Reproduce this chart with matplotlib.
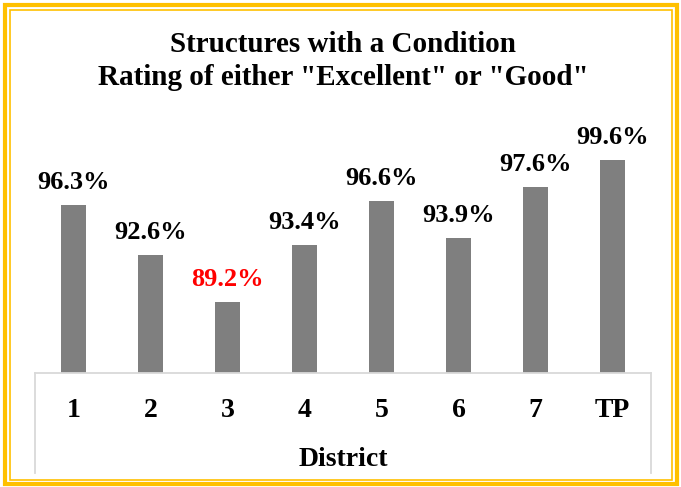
import matplotlib.pyplot as plt
from matplotlib.patches import Rectangle
from matplotlib.lines import Line2D

districts = ['1', '2', '3', '4', '5', '6', '7', 'TP']
pct_good = [96.3, 92.6, 89.2, 93.4, 96.6, 93.9, 97.6, 99.6]
label_colors = ['black', 'black', 'red', 'black', 'black', 'black', 'black', 'black']

plt.rcParams['font.family'] = ['Liberation Serif', 'DejaVu Serif']
plt.rcParams['font.weight'] = 'bold'

W, H = 681, 487
fig = plt.figure(figsize=(W / 100, H / 100), dpi=100)

# axes: x from 35 to 651 px, baseline at y=373 px
ax = fig.add_axes([35 / W, 1 - 373 / H, 616 / W, (373 - 127) / H])
x = range(len(districts))
ax.bar(x, pct_good, width=0.32, color='#7f7f7f')
ax.set_ylim(84, 102)
ax.set_xlim(-0.5, len(districts) - 0.5)
ax.axis('off')

for i, v in enumerate(pct_good):
    ax.annotate(f'{v:.1f}%', (i, v), xytext=(0, 11.5), textcoords='offset points',
                ha='center', va='baseline', fontsize=19, fontweight='bold',
                color=label_colors[i], annotation_clip=False)

# category labels
for i, d in enumerate(districts):
    fig.text((35 + 77 * (i + 0.5)) / W, 1 - 417 / H, d, ha='center', va='baseline',
             fontsize=20, fontweight='bold')
fig.text(343 / W, 1 - 466 / H, 'District', ha='center', va='baseline',
         fontsize=20, fontweight='bold')

# light gray category-axis box
gray = '#d9d9d9'
fig.add_artist(Line2D([35 / W, 651 / W], [1 - 373 / H, 1 - 373 / H], color=gray, lw=1.3))
fig.add_artist(Line2D([35 / W, 35 / W], [1 - 373 / H, 1 - 473 / H], color=gray, lw=1.3))
fig.add_artist(Line2D([651 / W, 651 / W], [1 - 373 / H, 1 - 473 / H], color=gray, lw=1.3))

# title
fig.text(343 / W, 1 - 61 / H, 'Structures with a Condition\nRating of either "Excellent" or "Good"',
         ha='center', va='center', fontsize=21, fontweight='bold', linespacing=1.3)

# gold double border
gold = '#FFC000'
fig.add_artist(Rectangle((4.5 / W, 3.5 / H), (W - 9) / W, (H - 8) / H, transform=fig.transFigure,
                         fill=False, edgecolor=gold, lw=3.0))
fig.add_artist(Rectangle((9.5 / W, 7.5 / H), (W - 19) / W, (H - 17) / H, transform=fig.transFigure,
                         fill=False, edgecolor=gold, lw=1.2))

fig.savefig('out.png', dpi=100)
